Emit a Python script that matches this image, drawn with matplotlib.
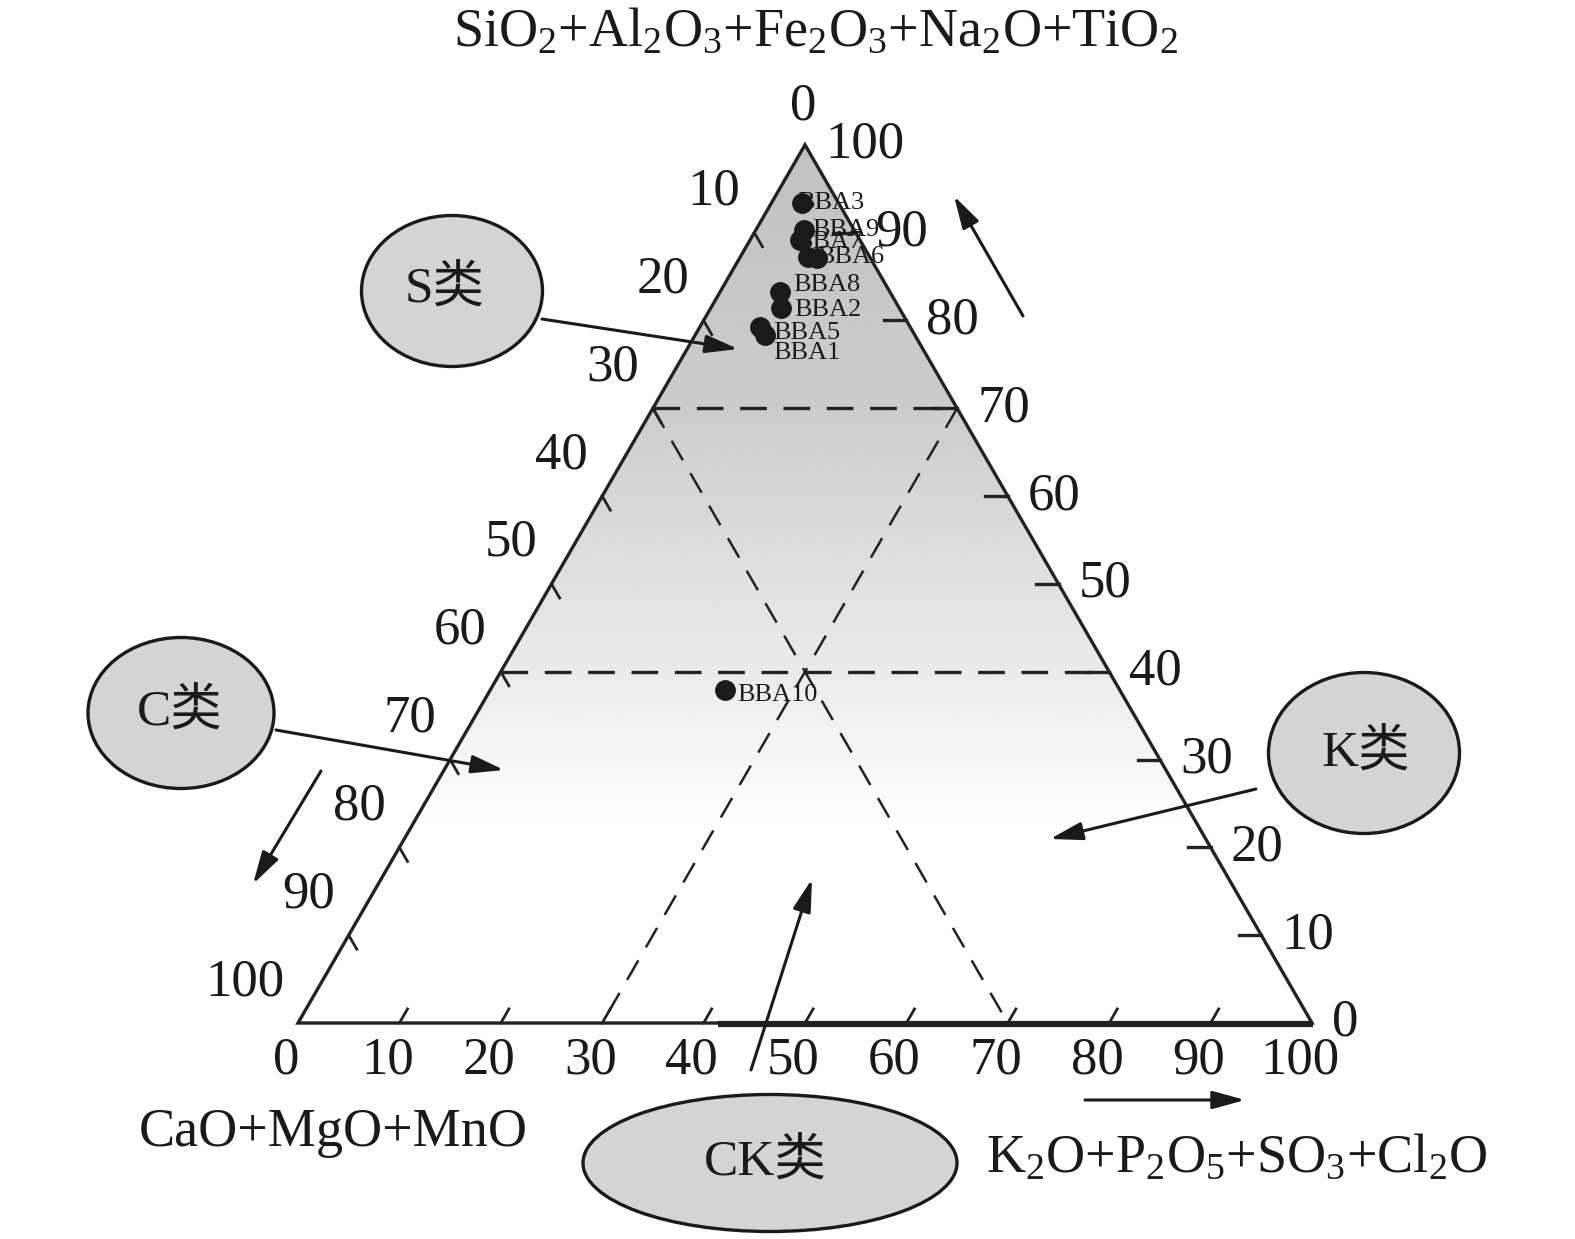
import numpy as np
import matplotlib.pyplot as plt
from matplotlib.patches import Polygon, Ellipse

plt.rcParams['font.family'] = ['Liberation Serif', 'Noto Sans CJK SC']
plt.rcParams['mathtext.fontset'] = 'custom'
plt.rcParams['mathtext.rm'] = 'Liberation Serif'
plt.rcParams['mathtext.it'] = 'Liberation Serif:italic'

# sample compositions (wt% of the three groups)
names = ['BBA1', 'BBA2', 'BBA3', 'BBA4', 'BBA5', 'BBA6', 'BBA7', 'BBA8', 'BBA9', 'BBA10']
s_val = [78.4, 81.4, 93.4, 87.1, 79.3, 87.2, 89.2, 83.3, 90.3, 37.9]   # SiO2+Al2O3+...
k_val = [6.9, 6.9, 3.0, 7.6, 5.9, 6.7, 4.9, 5.9, 4.8, 23.2]          # K2O+P2O5+...
c_val = [100 - s - k for s, k in zip(s_val, k_val)]                   # CaO+MgO+MnO
show_name = [True, True, True, False, True, True, True, True, True, True]
# label offsets in pixels (dx, dy down)
lab_off = [(8, 18), (14, 2), (-5, 0), (0, 0), (13, 6), (9, 0), (-5, 2), (13, -7), (8, 0), (12, 5)]

ticks = list(range(0, 101, 10))
dashed_s = [70, 40]
dashed_c = 30
dashed_k = 30

H = np.sqrt(3) / 2


def tern(c, k, s):
    tot = c + k + s
    return (k + s / 2) / tot, s / tot * H


def px(x, y):
    # position given in pixels of the 1575x1239 picture -> axes units
    return (x - 298) / 1014, (1023 - y) / 1014


fig = plt.figure(figsize=(15.75, 12.39), dpi=100)
ax = fig.add_axes([0, 0, 1, 1])
ax.set_xlim(-298 / 1014, (1575 - 298) / 1014)
ax.set_ylim(-(1239 - 1023) / 1014, 1023 / 1014)
ax.axis('off')

# grey shading
tri = Polygon([tern(100, 0, 0), tern(0, 100, 0), tern(0, 0, 100)], closed=True,
              fill=False, edgecolor='#222222', lw=2.4, zorder=3, joinstyle='miter')
ax.add_patch(tri)
sy = np.linspace(100, 0, 400)
grey = np.interp(sy, [0, 22, 40, 70, 100], [1.0, 1.0, 0.92, 0.80, 0.76])
img = ax.imshow(np.tile(grey[:, None], (1, 2)), cmap='gray', vmin=0, vmax=1,
                extent=[0, 1, 0, H], aspect='auto', zorder=1, interpolation='bilinear')
img.set_clip_path(tri)

# thick stretch of base
ax.plot(*zip(px(718, 1024), px(1313, 1024)), color='#222222', lw=4.5, zorder=3,
        solid_capstyle='butt')

# dashed division lines
for s in dashed_s:
    a = tern(100 - s, 0, s)
    b = tern(0, 100 - s, s)
    ax.plot([a[0], b[0]], [a[1], b[1]], color='#222222', lw=2.4, dashes=(8, 5), zorder=2)
a = tern(dashed_c, 0, 100 - dashed_c)
b = tern(dashed_c, 100 - dashed_c, 0)
ax.plot([a[0], b[0]], [a[1], b[1]], color='#222222', lw=1.8, dashes=(9, 6), zorder=2)
a = tern(0, dashed_k, 100 - dashed_k)
b = tern(100 - dashed_k, dashed_k, 0)
ax.plot([a[0], b[0]], [a[1], b[1]], color='#222222', lw=1.8, dashes=(9, 6), zorder=2)

# ticks and tick labels
tl = 0.016
for t in ticks:
    # left side: CaO+MgO+MnO
    x, y = tern(t, 0, 100 - t)
    if 0 < t < 100:
        ax.plot([x, x + 0.5 * tl], [y, y - H * tl], color='#222222', lw=2, zorder=3)
    if t == 0:
        ax.annotate(str(t), (x, y), xytext=(-2, 38), textcoords='offset pixels',
                    ha='center', va='center', fontsize=38, color='#1a1a1a')
    else:
        ax.annotate(str(t), (x, y), xytext=(-14, 41), textcoords='offset pixels',
                    ha='right', va='center', fontsize=38, color='#1a1a1a')
    # right side: SiO2+...
    x, y = tern(0, 100 - t, t)
    if 0 < t < 100:
        ax.plot([x, x - 0.022], [y, y], color='#222222', lw=2.4, zorder=3)
    ax.annotate(str(t), (x, y), xytext=(20, 0), textcoords='offset pixels',
                ha='left', va='center', fontsize=38, color='#1a1a1a')
    # bottom: K2O+...
    x, y = tern(100 - t, t, 0)
    if 0 < t < 100:
        ax.plot([x, x + 0.5 * tl], [y, y + H * tl], color='#222222', lw=2, zorder=3)
    ax.annotate(str(t), (x, y), xytext=(-12, -37), textcoords='offset pixels',
                ha='center', va='center', fontsize=38, color='#1a1a1a')

# samples
for i in range(len(names)):
    x, y = tern(c_val[i], k_val[i], s_val[i])
    ax.plot(x, y, 'o', color='#1a1a1a', ms=14, zorder=5)
for i in range(len(names)):
    if not show_name[i]:
        continue
    x, y = tern(c_val[i], k_val[i], s_val[i])
    dx, dy = lab_off[i]
    ax.annotate(names[i], (x, y), xytext=(dx, -dy), textcoords='offset pixels',
                ha='left', va='center', fontsize=19, color='#1a1a1a', zorder=6)

# axis titles
ax.text(*px(816, 32), r'SiO$_2$+Al$_2$O$_3$+Fe$_2$O$_3$+Na$_2$O+TiO$_2$',
        ha='center', va='center', fontsize=39, color='#1a1a1a')
ax.text(*px(333, 1133), 'CaO+MgO+MnO', ha='center', va='center', fontsize=39, color='#1a1a1a')
ax.text(*px(1237, 1158), r'K$_2$O+P$_2$O$_5$+SO$_3$+Cl$_2$O',
        ha='center', va='center', fontsize=39, color='#1a1a1a')

# class ellipses
ell = [('S类', 452, 291, 181, 151, 445, 289),
       ('C类', 181, 713, 186, 151, 180, 712),
       ('K类', 1364, 753, 191, 161, 1366, 753),
       ('CK类', 770, 1163, 374, 137, 765, 1162)]
for lab, cx, cy, w, h, tx, ty in ell:
    ax.add_patch(Ellipse(px(cx, cy), w / 1014, h / 1014, facecolor='#d4d4d4',
                         edgecolor='#1a1a1a', lw=2.4, zorder=4))
    ax.text(*px(tx, ty), lab, ha='center', va='center', fontsize=37, color='#1a1a1a', zorder=5)

# arrows
arrows = [((542, 319), (738, 349)),
          ((276, 730), (504, 770)),
          ((1256, 789), (1050, 839)),
          ((751, 1070), (812, 879)),
          ((1023, 316), (954, 196)),
          ((321, 771), (253, 884)),
          ((1085, 1100), (1245, 1100))]
for p0, p1 in arrows:
    ax.annotate('', xy=px(*p1), xytext=px(*p0),
                arrowprops=dict(arrowstyle='-|>,head_length=0.9,head_width=0.25',
                                mutation_scale=22, lw=2.2, color='#1a1a1a',
                                shrinkA=0, shrinkB=0), zorder=6)

fig.savefig('out.png', dpi=100)
